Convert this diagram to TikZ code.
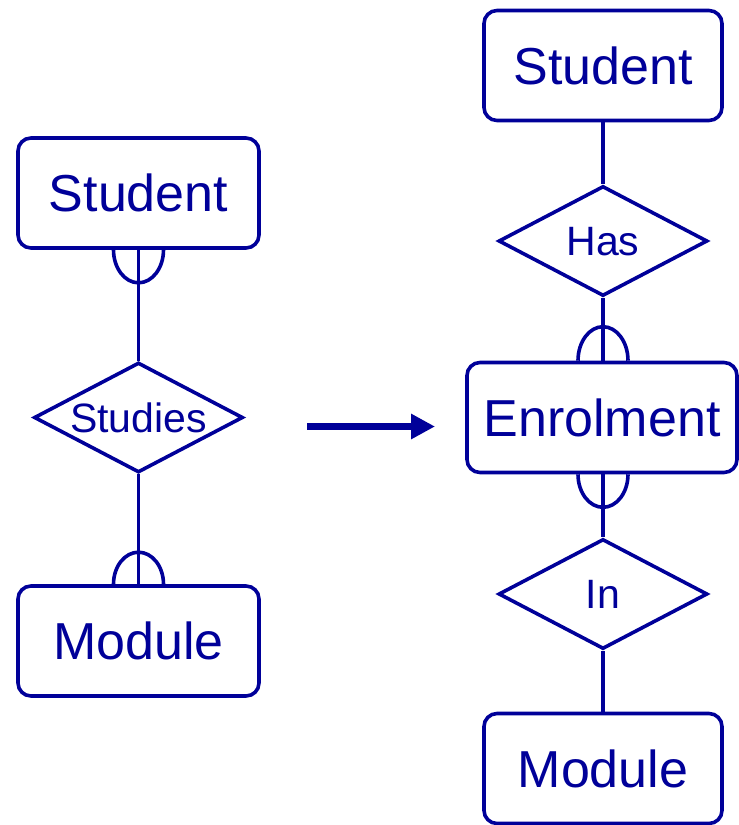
\documentclass[tikz,border=0pt]{standalone}
\usepackage{fontspec}
\setmainfont{Liberation Sans}
\usetikzlibrary{shapes.geometric,arrows.meta}
\definecolor{erblue}{RGB}{0,0,153}
\begin{document}
\begin{tikzpicture}[x=1pt,y=-1pt,
  ent/.style={draw=erblue, text=erblue, line width=3.6pt, rounded corners=13pt, inner sep=0pt,
    minimum height=110pt, font=\fontsize{52}{60}\selectfont,
    text height=37.3pt, text depth=0pt},
  rel/.style={draw=erblue, text=erblue, line width=3.6pt, diamond, aspect=1.9, inner sep=0pt,
    minimum width=209pt, minimum height=110pt, font=\fontsize{41}{48}\selectfont,
    text height=29.4pt, text depth=0pt},
  conn/.style={draw=erblue, line width=3.6pt},
  optb/.style={draw=erblue, line width=3.6pt}
]
\useasboundingbox (0,0) rectangle (739,825);
% left diagram
\node[ent, minimum width=241pt] (s1) at (138.5,193) {Student};
\node[rel] (r1) at (138.5,417.5) {Studies};
\node[ent, minimum width=241pt] (m1) at (138.5,641) {Module};
\draw[conn] (s1.south) -- (r1.north);
\draw[conn] (r1.south) -- (m1.north);
\draw[optb] ([xshift=-25pt]s1.south) arc[start angle=180, end angle=360, x radius=25pt, y radius=33pt];
\draw[optb] ([xshift=-25pt]m1.north) arc[start angle=180, end angle=0, x radius=25pt, y radius=32pt];
% arrow
\coordinate (a1) at (307,426.5);
\coordinate (a2) at (435,426.5);
\draw[erblue, line width=7pt, -{Triangle[length=24pt, width=24pt]}] (a1) -- (a2);
% right diagram
\node[ent, minimum width=238pt] (s2) at (603,65.5) {Student};
\node[rel] (r2) at (603,241) {Has};
\node[ent, minimum width=270pt] (e2) at (602,417.5) {Enrolment};
\node[rel] (r3) at (603,594) {In};
\node[ent, minimum width=238pt] (m2) at (603,768.5) {Module};
\draw[conn] (s2.south) -- (r2.north);
\draw[conn] (r2.south) -- (r2.south |- e2.north);
\draw[conn] (r3.north |- e2.south) -- (r3.north);
\draw[conn] (r3.south) -- (m2.north);
\draw[optb] ([xshift=-25pt]r2.south |- e2.north) arc[start angle=180, end angle=0, x radius=25pt, y radius=34pt];
\draw[optb] ([xshift=-25pt]r3.north |- e2.south) arc[start angle=180, end angle=360, x radius=25pt, y radius=33pt];
\end{tikzpicture}
\end{document}
